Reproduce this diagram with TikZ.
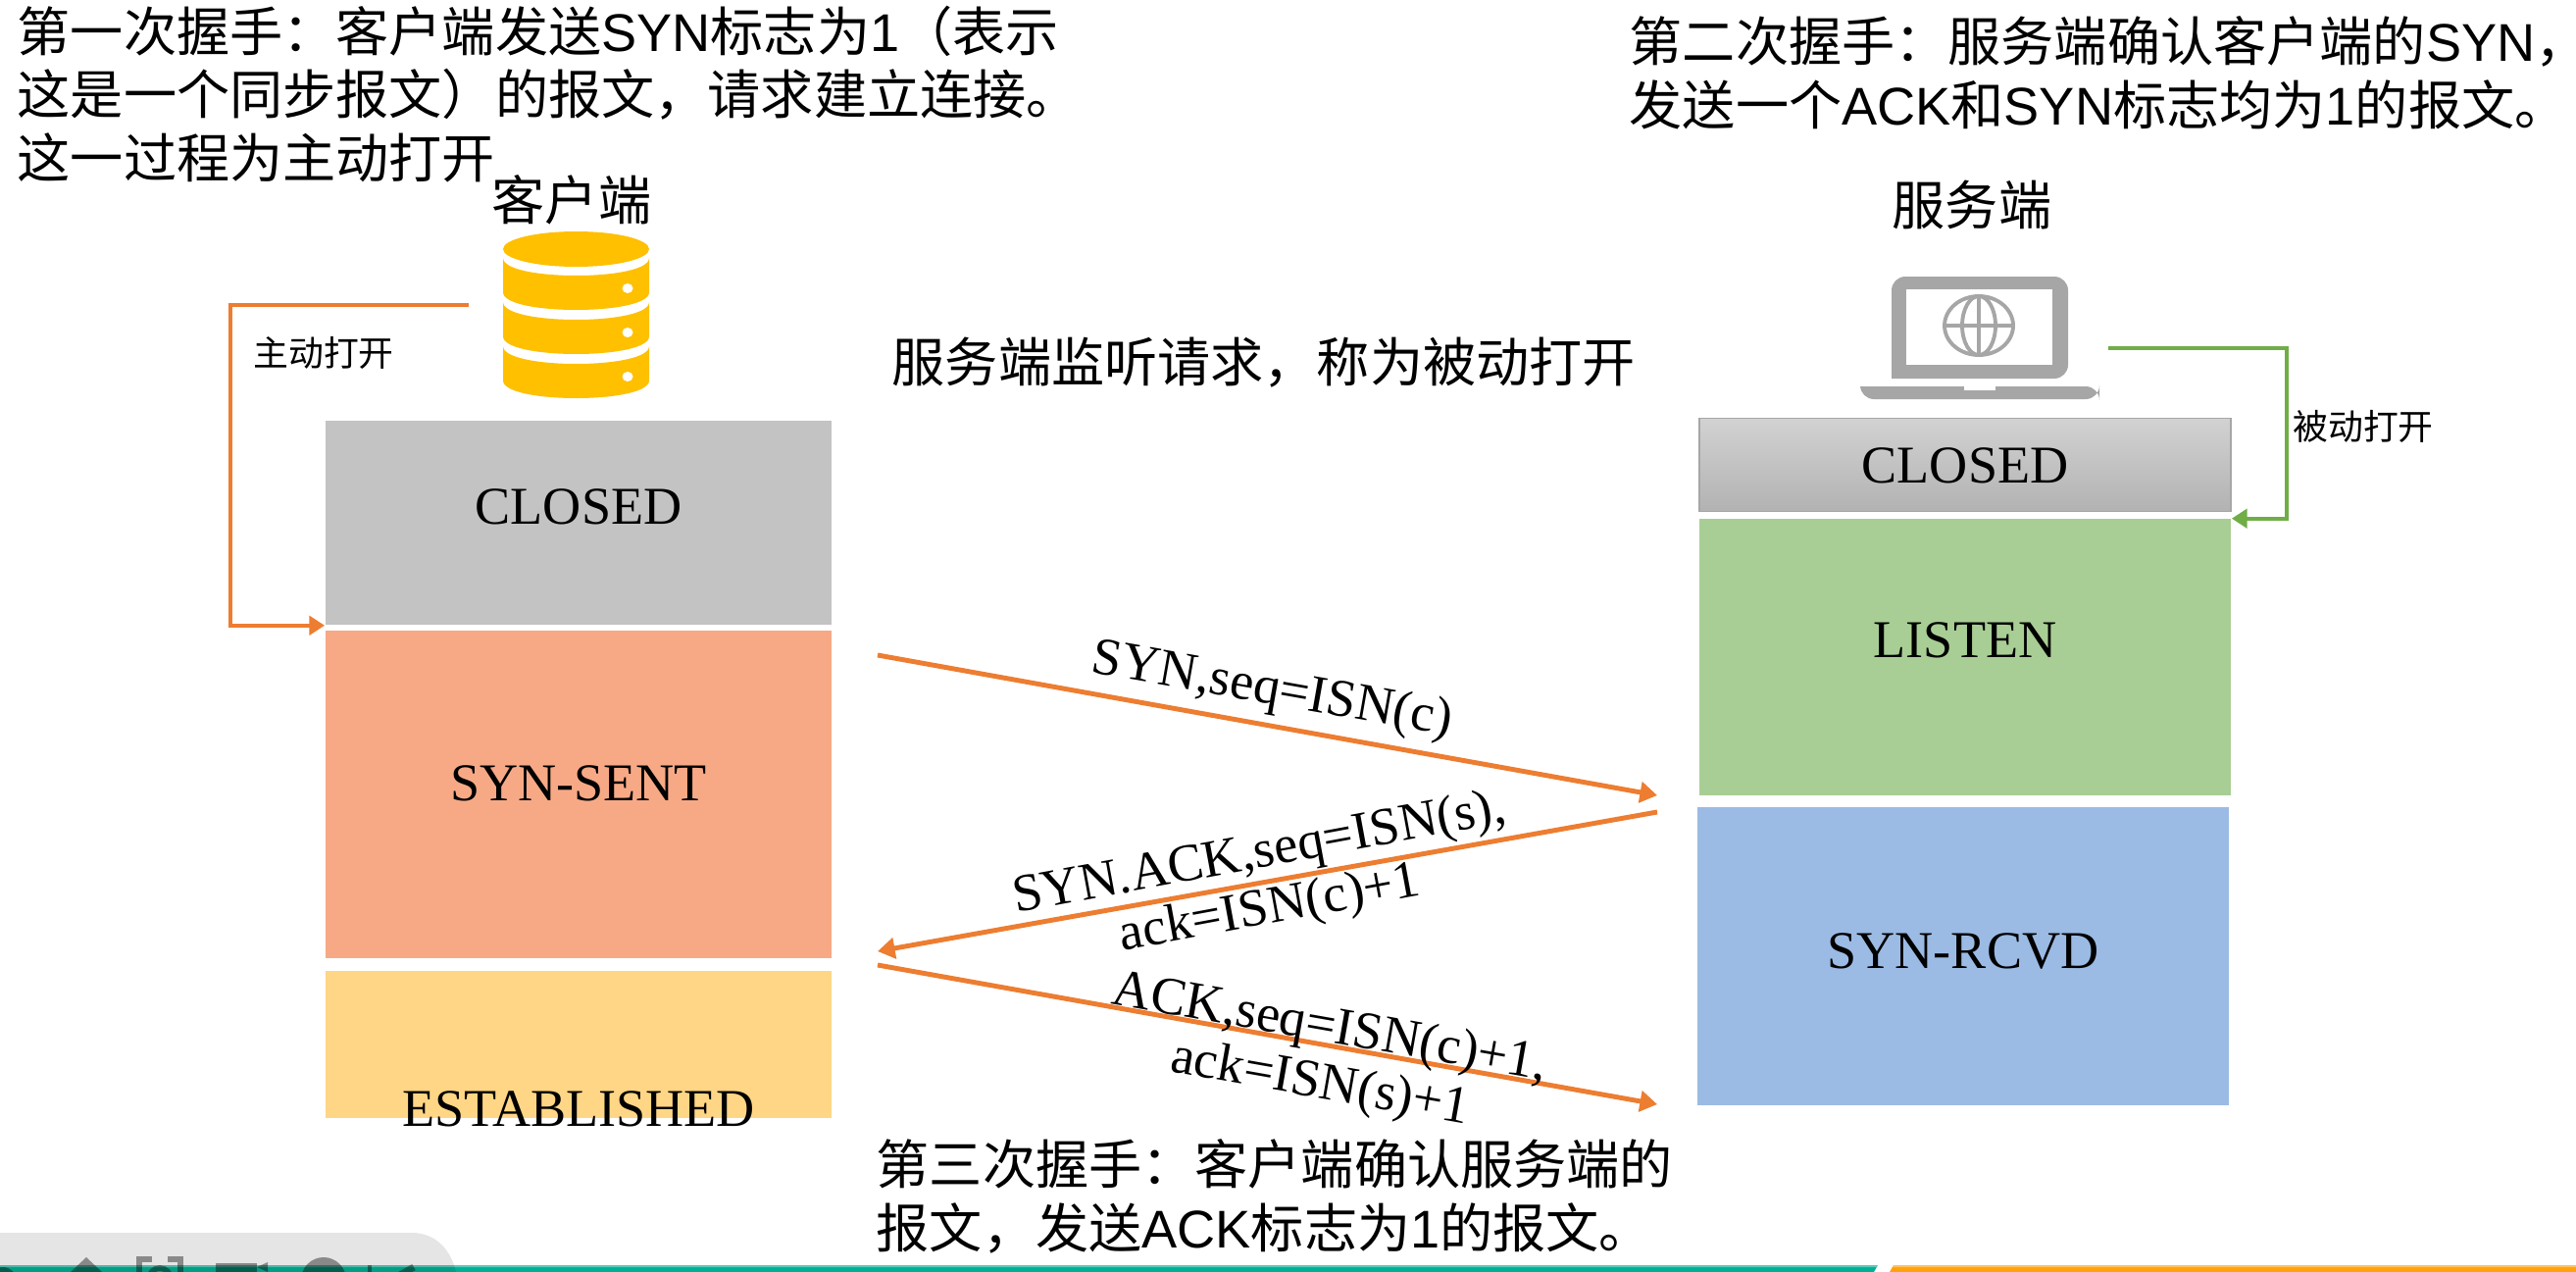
\documentclass[tikz,border=0pt]{standalone}
\usepackage{fontspec}
\setmainfont{Noto Sans CJK SC}
\newfontfamily\latinfont{Liberation Sans}
\newfontfamily\seriffont{Liberation Serif}
\usetikzlibrary{arrows.meta}
\newcommand{\lat}[1]{{\latinfont #1}}
\definecolor{hsorange}{HTML}{ED7D31}
\definecolor{hsgreen}{HTML}{70AD47}
\definecolor{dbgold}{HTML}{FFC000}
\definecolor{pcgray}{HTML}{A6A6A6}
\tikzset{
  bigtext/.style={font=\fontsize{15.4}{18.4}\selectfont,inner sep=0pt,align=left},
  smalltext/.style={font=\fontsize{10.2}{12}\selectfont,inner sep=0pt},
  statetext/.style={font=\seriffont\fontsize{15.4}{18.4}\selectfont,inner sep=0pt},
  msgtext/.style={font=\seriffont\fontsize{15.4}{16.4}\selectfont,inner sep=0pt,align=center},
  msgline/.style={hsorange,line width=1.4pt,-{Triangle[length=5pt,width=6pt]}},
  openline/.style={line width=1.25pt,-{Triangle[length=4.5pt,width=5.5pt]}},
}
\begin{document}
\begin{tikzpicture}[x=0.01cm,y=-0.01cm]
  \useasboundingbox (0,0) rectangle (2627,1297);
  % --- Helper: \statebox{name}{cx}{cy}{w}{h}{look}{texty}{label} ---
  % Box centred at (cx,cy), sizes in cm, its label a separate node at (cx,texty).
  \newcommand{\statebox}[8]{%
    \node (#1) [minimum width=#4cm,minimum height=#5cm,inner sep=0pt,#6] at (#2,#3) {};
    \node (#1text) [statetext] at (#2,#7) {#8};}
  % --- Helper: \dbdisk{ytop}{ybottom}: one slice of the database, dot on the right ---
  \newcommand{\dbdisk}[2]{%
    \fill[dbgold] (513,#1) .. controls (513,#1+24) and (662,#1+24) .. (662,#1)
      -- (662,#2) .. controls (662,#2+24) and (513,#2+24) .. (513,#2) -- cycle;
    \fill[white] (640,#2-4) ellipse [x radius=5.5,y radius=5];}

  % Client column
  \statebox{cliclosed}{590}{533}{5.16}{2.08}{fill={rgb,255:red,195;green,195;blue,195}}{517}{CLOSED}
  \statebox{clisent}{590}{810}{5.16}{3.34}{fill={rgb,255:red,247;green,169;blue,134}}{799}{SYN-SENT}
  \statebox{cliest}{590}{1065}{5.16}{1.50}{fill={rgb,255:red,255;green,214;blue,133}}{1131}{ESTABLISHED}

  % Server column
  \statebox{srvclosed}{2004}{474}{5.42}{0.95}{top color={rgb,255:red,210;green,210;blue,210},bottom color={rgb,255:red,178;green,178;blue,178},draw=pcgray,line width=0.5pt}{475}{CLOSED}
  \statebox{srvlisten}{2004}{670}{5.42}{2.81}{fill={rgb,255:red,169;green,206;blue,149}}{653}{LISTEN}
  \statebox{srvrcvd}{2002}{975}{5.42}{3.03}{fill={rgb,255:red,155;green,187;blue,228}}{970}{SYN-RCVD}

  % Database icon
  \fill[dbgold] (587.5,254) ellipse [x radius=74.5,y radius=18];
  \dbdisk{263}{298}
  \dbdisk{308}{343}
  \dbdisk{353}{388}

  % Laptop icon
  \fill[pcgray,rounded corners=4pt] (1929,386) -- (1929,282) -- (2109,282) -- (2109,386) [sharp corners] -- cycle;
  \fill[white] (1944,295) rectangle (2093,372);
  \fill[pcgray,rounded corners=4pt] (1897,394) -- (1897,407) -- (2141,407) -- (2141,394) [sharp corners] -- cycle;
  \fill[white] (2003,394) rectangle (2035,398);
  \begin{scope}[pcgray,line width=1.1pt]
    \draw (2018,332) ellipse [x radius=35,y radius=30];
    \draw (2018,332) ellipse [x radius=17,y radius=30];
    \draw (2018,302) -- (2018,362);
    \draw (1983,332) -- (2053,332);
  \end{scope}

  % Names above the icons
  \node (clientname) [bigtext] at (583,204) {客户端};
  \node (servername) [bigtext] at (2011,209) {服务端};

  % Active and passive open
  \coordinate (actstart) at (478,311);
  \coordinate (passtart) at (2150,355);
  \draw[openline,hsorange] (actstart) -- ++(-243,0) |- (cliclosed.south west);
  \draw[openline,hsgreen] (passtart) -- ++(182,0) |- (srvlisten.north east);
  \node (actlabel) [smalltext] at (330,360) {主动打开};
  \node (paslabel) [smalltext] at (2410,435) {被动打开};

  % The three messages
  \coordinate (synstart) at (895,668);
  \coordinate (synend) at (1690,811);
  \coordinate (sakstart) at (1690,828);
  \coordinate (sakend) at (895,970);
  \coordinate (ackstart) at (895,984);
  \coordinate (ackend) at (1690,1126);
  \draw[msgline] (synstart) -- (synend);
  \draw[msgline] (sakstart) -- (sakend);
  \draw[msgline] (ackstart) -- (ackend);
  \node (synlabel) [msgtext,rotate=-10] at (1297,705) {SYN,seq=ISN(c)};
  \node (saklabel) [msgtext,rotate=10.5] at (1290,900) {SYN.ACK,seq=ISN(s),\\ack=ISN(c)+1};
  \node (acklabel) [msgtext,rotate=-10] at (1351,1078) {ACK,seq=ISN(c)+1,\\ack=ISN(s)+1};

  % Captions
  \node (firsttext) [bigtext,anchor=west] at (17,96) {第一次握手：客户端发送\lat{SYN}标志为\lat{1}（表示\\这是一个同步报文）的报文，请求建立连接。\\这一过程为主动打开};
  \node (secondtext) [bigtext,anchor=west] at (1661,74) {第二次握手：服务端确认客户端的\lat{SYN}，\\发送一个\lat{ACK}和\lat{SYN}标志均为\lat{1}的报文。};
  \node (listentext) [bigtext,anchor=west] at (909,370) {服务端监听请求，称为被动打开};
  \node (thirdtext) [bigtext,anchor=west] at (893,1220) {第三次握手：客户端确认服务端的\\报文，发送\lat{ACK}标志为\lat{1}的报文。};

  % Bars along the lower edge, with the translucent tool panel over them
  \fill[fill={rgb,255:red,0;green,176;blue,148}] (0,1290) -- (1915,1290) -- (1911,1297) -- (0,1297) -- cycle;
  \fill[fill={rgb,255:red,255;green,162;blue,12}] (1931,1290) -- (2627,1290) -- (2627,1297) -- (1927,1297) -- cycle;
  \fill[white,fill opacity=0.35] (0,1290) -- (1915,1290) -- (1914,1292) -- (0,1292) -- cycle;
  \fill[white,fill opacity=0.35] (1931,1290) -- (2627,1290) -- (2627,1292) -- (1930,1292) -- cycle;
  \fill[black,fill opacity=0.1] (0,1257) -- (420,1257) .. controls (445,1257) and (460,1275) .. (465,1297) -- (0,1297) -- cycle;
  \begin{scope}
    \clip (0,1257) rectangle (465,1297);
    \fill[black,fill opacity=0.4] (3,1306) circle [radius=14];
    \fill[black,fill opacity=0.4] (88,1282) -- (104,1297) -- (72,1297) -- cycle;
    \draw[black,draw opacity=0.4,line width=1.6pt] (142,1297) -- (142,1284) -- (155,1284) (171,1284) -- (184,1284) -- (184,1297);
    \draw[black,draw opacity=0.4,line width=1.6pt] (163,1304) circle [radius=11];
    \fill[black,fill opacity=0.4] (220,1288) rectangle (262,1297);
    \fill[black,fill opacity=0.4] (262,1292) -- (273,1287) -- (273,1297) -- cycle;
    \fill[black,fill opacity=0.4] (330,1305) circle [radius=23];
    \draw[black,draw opacity=0.4,line width=1pt] (377,1290) -- (377,1297);
    \draw[black,draw opacity=0.4,line width=2pt] (422,1292) -- (408,1300);
  \end{scope}
\end{tikzpicture}
\end{document}
